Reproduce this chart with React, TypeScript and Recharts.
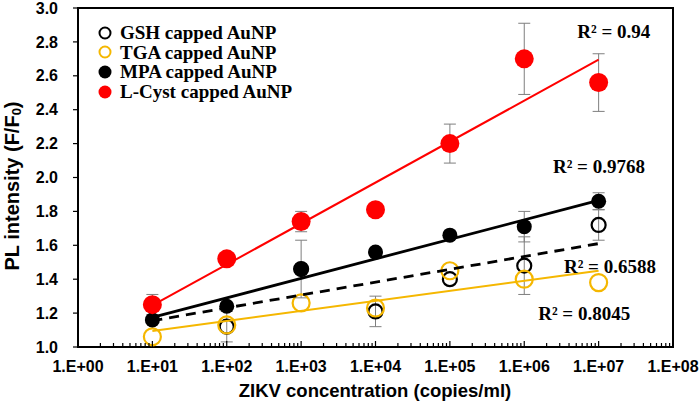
import React from "react";
import {
  ComposedChart,
  ErrorBar,
  Label,
  Legend,
  ReferenceArea,
  ReferenceDot,
  Scatter,
  XAxis,
  YAxis,
} from "recharts";

// concentrations (copies/ml)
const conc = [1e1, 1e2, 1e3, 1e4, 1e5, 1e6, 1e7];

const gsh = [1.25, 1.12, 1.46, 1.21, 1.4, 1.48, 1.72];
const gshErr = [0, 0.09, 0.17, 0.09, 0, 0.17, 0.09];
const tga = [1.06, 1.13, 1.26, 1.23, 1.45, 1.4, 1.38];
const mpa = [1.16, 1.24, 1.46, 1.56, 1.66, 1.71, 1.86];
const mpaErr = [0, 0, 0, 0, 0, 0.09, 0.05];
const cyst = [1.25, 1.52, 1.74, 1.81, 2.2, 2.7, 2.56];
const cystErr = [0.06, 0, 0.06, 0, 0.115, 0.21, 0.17];

// trendline end points
const fitX = [1e1, 1e7];
const gshFit = [1.155, 1.61];
const tgaFit = [1.095, 1.45];
const mpaFit = [1.175, 1.865];
const cystFit = [1.245, 2.695];

const r2Labels = [
  { text: "R² = 0.94", x: 1.6e7, y: 2.864 },
  { text: "R² = 0.9768", x: 1.01e7, y: 2.068 },
  { text: "R² = 0.6588", x: 1.42e7, y: 1.478 },
  { text: "R² = 0.8045", x: 6.4e6, y: 1.2 },
];

const xMajorTicks = [1, 1e1, 1e2, 1e3, 1e4, 1e5, 1e6, 1e7, 1e8];
const xTickLabels = ["1.E+00", "1.E+01", "1.E+02", "1.E+03", "1.E+04", "1.E+05", "1.E+06", "1.E+07", "1.E+08"];
const yTicks = [1.0, 1.2, 1.4, 1.6, 1.8, 2.0, 2.2, 2.4, 2.6, 2.8, 3.0];

const xMinorTicks: number[] = [];
xMajorTicks.slice(0, -1).forEach((d) => {
  for (let m = 2; m <= 9; m++) xMinorTicks.push(d * m);
});
const xAllTicks = [...xMajorTicks, ...xMinorTicks].sort((a, b) => a - b);

const rows = (ys: number[], errs?: number[]) =>
  conc.map((x, i) => ({ x, y: ys[i], err: errs ? errs[i] : 0 }));
const fitRows = (ys: number[]) => fitX.map((x, i) => ({ x, y: ys[i] }));

const SANS = "'Liberation Sans', Arial, sans-serif";
const SERIF = "'Liberation Serif', 'Times New Roman', serif";
const GOLD = "#F5B700";

const legendItems = [
  { name: "GSH capped AuNP", color: "#000", open: true },
  { name: "TGA capped AuNP", color: GOLD, open: true },
  { name: "MPA capped AuNP", color: "#000", open: false },
  { name: "L-Cyst capped AuNP", color: "#ff0000", open: false },
];

const XTick = (props: any) => {
  const { x, y, payload } = props;
  const v = payload.value;
  const idx = xMajorTicks.findIndex((m) => Math.abs(m - v) / m < 1e-9);
  const major = idx >= 0;
  return (
    <g>
      <line x1={x} x2={x} y1={y} y2={y - (major ? 6 : 4)} stroke="#000" strokeWidth={1.2} />
      {major && (
        <text x={x} y={y + 25} textAnchor="middle" fontFamily={SANS} fontWeight={700} fontSize={16} fill="#000">
          {xTickLabels[idx]}
        </text>
      )}
    </g>
  );
};

const LegendBox = () => (
  <div style={{ fontFamily: SERIF, fontWeight: 700, fontSize: 19, lineHeight: "19.6px", color: "#000" }}>
    {legendItems.map((it) => (
      <div key={it.name} style={{ display: "flex", alignItems: "center", whiteSpace: "nowrap" }}>
        <svg width={18} height={18} style={{ marginRight: 6 }}>
          <circle
            cx={9}
            cy={9}
            r={it.open ? 5.5 : 6.5}
            fill={it.open ? "none" : it.color}
            stroke={it.open ? it.color : "none"}
            strokeWidth={2}
          />
        </svg>
        {it.name}
      </div>
    ))}
  </div>
);

const ring = (color: string, r: number) => (p: any) =>
  <circle cx={p.cx} cy={p.cy} r={r} fill="none" stroke={color} strokeWidth={2.2} />;
const dot = (color: string, r: number) => (p: any) =>
  <circle cx={p.cx} cy={p.cy} r={r} fill={color} />;
const noShape = () => <g />;

export default function App() {
  return (
    <div style={{ position: "absolute", left: 0, top: 0, width: 700, height: 404, background: "#fff" }}>
      <ComposedChart width={700} height={404} margin={{ top: 8, right: 27, left: 0, bottom: 0 }}>
        <XAxis
          dataKey="x"
          type="number"
          scale="log"
          domain={[1, 1e8]}
          ticks={xAllTicks}
          interval={0}
          height={57}
          tickSize={0}
          tickMargin={0}
          tickLine={false}
          axisLine={{ stroke: "#000", strokeWidth: 2 }}
          tick={<XTick />}
          allowDataOverflow
        >
          <Label
            content={() => (
              <text x={375} y={397} textAnchor="middle" fontFamily={SANS} fontWeight={700} fontSize={18.5} fill="#000">
                ZIKV concentration (copies/ml)
              </text>
            )}
          />
        </XAxis>
        <YAxis
          type="number"
          domain={[1, 3]}
          ticks={yTicks}
          interval={0}
          width={78}
          tickSize={5}
          tickMargin={15}
          tickLine={{ stroke: "#000", strokeWidth: 1.2 }}
          axisLine={{ stroke: "#000", strokeWidth: 2 }}
          tickFormatter={(v: number) => v.toFixed(1)}
          tick={{ fontFamily: SANS, fontWeight: 700, fontSize: 16, fill: "#000" }}
          allowDataOverflow
        >
          <Label
            content={() => (
              <text
                transform="translate(12,186) rotate(-90)"
                textAnchor="middle"
                dominantBaseline="central"
                fontFamily={SANS}
                fontWeight={700}
                fontSize={20}
                fill="#000"
              >
                PL intensity (F/F
                <tspan fontSize={13} dy={4}>0</tspan>
                <tspan dy={-4}>)</tspan>
              </text>
            )}
          />
        </YAxis>

        <ReferenceArea x1={1} x2={1e8} y1={1} y2={3} fill="none" fillOpacity={0} stroke="#000" strokeWidth={2} />

        <Scatter data={rows(gsh, gshErr)} dataKey="y" isAnimationActive={false} shape={ring("#000", 7)}>
          <ErrorBar dataKey="err" direction="y" width={6} stroke="#7f7f7f" strokeWidth={1} />
        </Scatter>
        <Scatter data={rows(tga)} dataKey="y" isAnimationActive={false} shape={ring(GOLD, 8.5)} />
        <Scatter data={rows(mpa, mpaErr)} dataKey="y" isAnimationActive={false} shape={dot("#000", 7.5)}>
          <ErrorBar dataKey="err" direction="y" width={6} stroke="#7f7f7f" strokeWidth={1} />
        </Scatter>
        <Scatter data={rows(cyst, cystErr)} dataKey="y" isAnimationActive={false} shape={dot("#ff0000", 9.5)}>
          <ErrorBar dataKey="err" direction="y" width={6} stroke="#7f7f7f" strokeWidth={1} />
        </Scatter>

        <Scatter data={fitRows(gshFit)} dataKey="y" isAnimationActive={false} shape={noShape}
          line={{ stroke: "#000", strokeWidth: 2.8, strokeDasharray: "10 7" }} />
        <Scatter data={fitRows(tgaFit)} dataKey="y" isAnimationActive={false} shape={noShape}
          line={{ stroke: GOLD, strokeWidth: 2 }} />
        <Scatter data={fitRows(mpaFit)} dataKey="y" isAnimationActive={false} shape={noShape}
          line={{ stroke: "#000", strokeWidth: 2.8 }} />
        <Scatter data={fitRows(cystFit)} dataKey="y" isAnimationActive={false} shape={noShape}
          line={{ stroke: "#ff0000", strokeWidth: 2 }} />

        {r2Labels.map((l) => (
          <ReferenceDot
            key={l.text}
            x={l.x}
            y={l.y}
            r={0}
            fill="none"
            stroke="none"
            label={{
              value: l.text,
              position: "center",
              fontFamily: SERIF,
              fontWeight: 700,
              fontSize: 19,
              fill: "#000",
            }}
          />
        ))}

        <Legend
          layout="vertical"
          align="center"
          verticalAlign="middle"
          content={<LegendBox />}
          wrapperStyle={{ left: 96, top: 23, width: "auto" }}
        />
      </ComposedChart>
    </div>
  );
}
